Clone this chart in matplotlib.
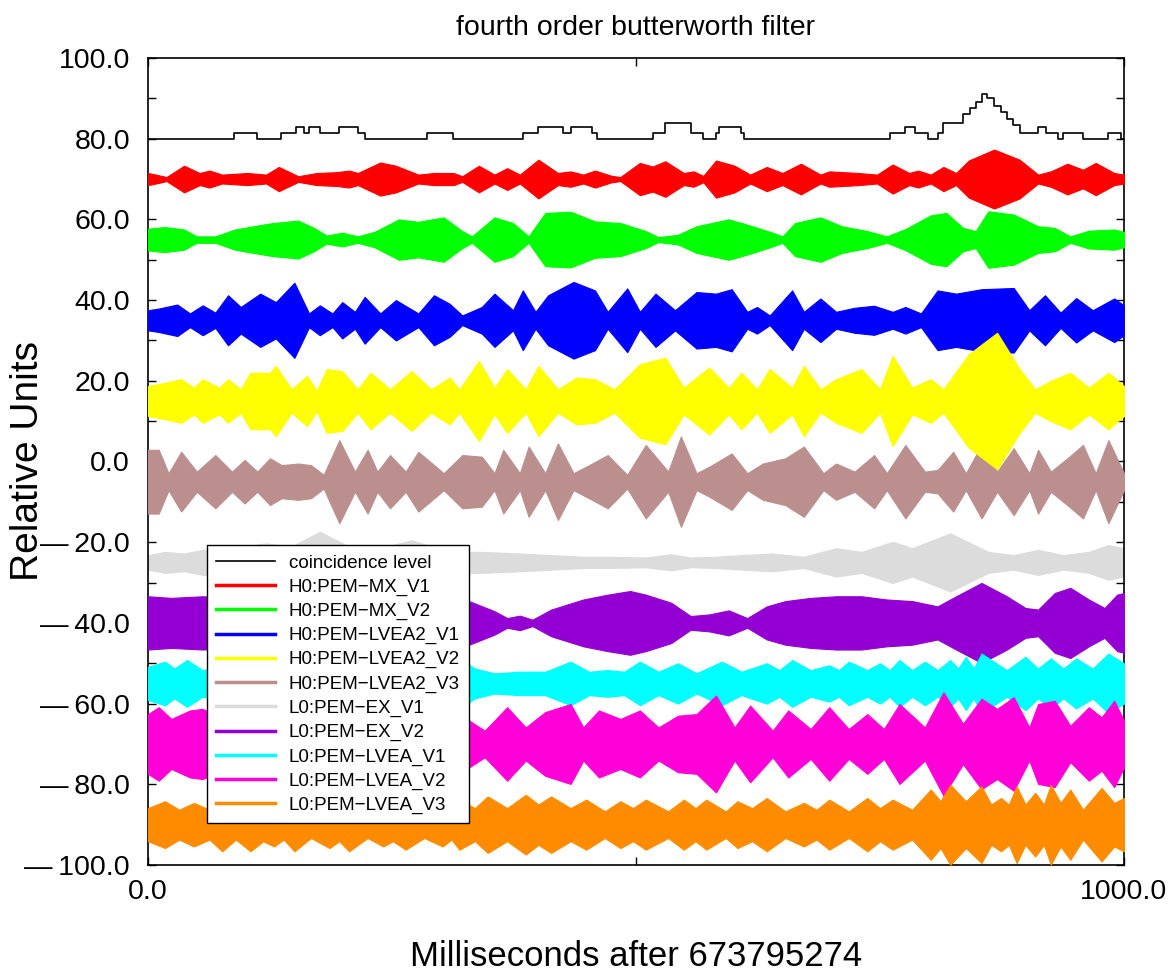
import numpy as np
import matplotlib
matplotlib.use('Agg')
import matplotlib.pyplot as plt
from matplotlib.ticker import FixedLocator, FuncFormatter, MultipleLocator
from matplotlib.lines import Line2D

plt.rcParams['font.family'] = ['Liberation Sans', 'DejaVu Sans']

# ---------------- data ----------------
names = ["coincidence level", "H0:PEM\u2212MX_V1", "H0:PEM\u2212MX_V2", "H0:PEM\u2212LVEA2_V1",
         "H0:PEM\u2212LVEA2_V2", "H0:PEM\u2212LVEA2_V3", "L0:PEM\u2212EX_V1", "L0:PEM\u2212EX_V2",
         "L0:PEM\u2212LVEA_V1", "L0:PEM\u2212LVEA_V2", "L0:PEM\u2212LVEA_V3"]
colors = ["#000000", "#ff0000", "#00ff00", "#0000ff", "#ffff00", "#bc8f8f", "#dcdcdc",
          "#9400d3", "#00ffff", "#ff00d8", "#ff8c00"]
offsets = [80, 70, 55, 35, 15, -5, -25, -40, -55, -70, -90]

coinc_t = [0, 88, 112, 136, 152, 160, 165, 176, 196, 215, 222, 286, 313, 384, 400, 425, 433, 455,
           460, 517, 530, 556, 569, 582, 585, 608, 611, 760, 776, 786, 799, 809, 815, 835, 842,
           848, 854, 860, 867, 874, 880, 886, 893, 912, 920, 932, 938, 958, 984, 997, 1000]
coinc_v = [80, 81.5, 80, 81.5, 83, 81.5, 83, 81.5, 83, 81.5, 80, 81.5, 80, 81.5, 83, 81.5, 83, 81.5,
           80, 81.5, 84, 81.5, 80, 81.5, 83, 81.5, 80, 81.5, 83, 81.5, 80, 81.5, 84, 86, 87.5,
           89, 91, 90, 88, 86.5, 85, 83.5, 81.5, 83, 81.5, 80, 81.5, 80, 81.5, 80, 80]

mx1_t = [0, 8, 19, 37, 53, 63, 76, 102, 121, 134, 154, 173, 193, 206, 215, 238, 254, 277, 293, 313,
         322, 339, 355, 368, 381, 400, 420, 433, 446, 458, 475, 484, 504, 517, 530, 549, 559, 569,
         582, 601, 617, 634, 650, 669, 689, 698, 728, 747, 763, 780, 789, 802, 815, 828, 841, 867,
         893, 912, 925, 942, 958, 971, 990, 1000]
mx1_a = [1.5, 1.1, 0.5, 3.3, 1.5, 2.1, 1.1, 1.5, 1.1, 3.0, 0.7, 1.5, 1.7, 2.1, 1.5, 4.1, 3.3, 1.1, 1.5,
         1.5, 0.7, 3.3, 1.1, 2.7, 1.1, 4.8, 1.5, 1.9, 1.1, 2.1, 0.8, 0.5, 4.0, 3.1, 4.4, 1.5, 1.9, 0.8,
         4.6, 3.3, 1.1, 3.0, 1.5, 3.8, 1.1, 1.9, 1.5, 1.1, 3.6, 1.5, 2.1, 1.1, 3.0, 1.5, 4.6, 7.3,
         4.8, 1.1, 1.9, 3.8, 2.3, 4.0, 1.5, 1.1]

mx2_t = [0, 17.5, 37, 50, 69, 89, 108, 128, 154, 170, 183, 199, 215, 232, 257, 277, 303, 322, 332,
         355, 374, 390, 407, 433, 458, 484, 510, 523, 543, 562, 595, 614, 640, 650, 663, 689, 711,
         737, 757, 776, 802, 818, 835, 848, 861, 887, 912, 929, 945, 964, 990, 1000]
mx2_a = [2.7, 3.1, 2.5, 0.8, 0.8, 2.5, 3.3, 4.1, 4.7, 2.9, 1.0, 1.7, 0.8, 1.9, 5.0, 4.4, 5.5, 2.1, 0.8,
         5.5, 4.1, 0.8, 6.6, 6.9, 4.5, 4.1, 2.1, 0.6, 1.2, 3.3, 5.0, 3.7, 1.7, 0.8, 4.1, 5.5, 3.3,
         2.1, 0.8, 2.6, 6.0, 6.6, 2.9, 2.1, 7.0, 6.2, 3.3, 2.9, 0.8, 2.2, 2.5, 1.9]

lv1_t = [0, 11, 30, 43, 56, 69, 82, 95, 115, 131, 150, 165, 176, 189, 199, 212, 222, 238, 254, 277,
         293, 309, 322, 342, 355, 374, 384, 397, 410, 436, 458, 471, 491, 504, 520, 540, 562, 582,
         598, 614, 624, 637, 660, 672, 689, 705, 724, 744, 763, 776, 792, 809, 828, 854, 887, 903,
         919, 935, 951, 968, 990, 1000]
lv1_a = [2.5, 2.9, 3.9, 1.7, 3.7, 1.9, 6.2, 3.3, 6.6, 4.5, 9.3, 1.7, 3.7, 1.7, 4.5, 2.1, 5.8, 1.7, 5.0,
         1.7, 6.2, 4.1, 1.2, 3.3, 6.6, 2.5, 7.4, 2.1, 6.2, 9.5, 7.4, 2.1, 7.9, 2.1, 6.6, 2.5, 7.0,
         6.6, 7.7, 2.1, 3.3, 1.2, 7.4, 2.1, 5.4, 2.1, 3.1, 3.6, 2.1, 3.3, 1.7, 7.4, 6.6, 7.7, 8.0,
         2.5, 6.2, 1.9, 5.5, 2.5, 5.4, 3.7]

lv2_t = [0, 17.5, 34, 47, 56, 73, 82, 95, 105, 125, 131, 147, 163, 173, 183, 199, 215, 228, 248, 270,
         290, 309, 319, 339, 355, 368, 387, 400, 420, 439, 458, 478, 504, 530, 549, 575, 595, 608,
         624, 637, 660, 672, 689, 705, 731, 750, 763, 783, 802, 815, 841, 870, 893, 909, 925, 945,
         964, 984, 1000]
lv2_a = [3.7, 4.5, 5.4, 3.3, 5.4, 3.3, 5.4, 2.9, 7.0, 7.0, 8.7, 2.9, 6.2, 2.5, 7.9, 7.4, 2.9, 7.0, 2.9,
         7.4, 2.9, 5.8, 2.9, 9.9, 3.3, 7.9, 2.9, 8.7, 2.9, 5.8, 5.4, 2.9, 9.1, 10.7, 3.3, 8.3, 3.3,
         7.0, 2.9, 7.9, 3.3, 8.7, 2.9, 5.4, 7.9, 2.9, 11.2, 3.3, 5.4, 2.9, 11.6, 16.9, 7.9, 2.9, 5.0,
         7.0, 3.3, 7.0, 3.7]

lv3_t = [0, 11, 21, 34, 50, 69, 86, 99, 112, 125, 137, 154, 167, 180, 196, 212, 225, 235, 248, 264,
         277, 303, 322, 342, 355, 364, 381, 390, 407, 420, 436, 455, 471, 491, 510, 533, 546, 562,
         575, 598, 614, 630, 653, 672, 692, 705, 724, 744, 757, 776, 796, 809, 825, 838, 854, 870,
         887, 903, 912, 925, 942, 958, 971, 984, 1000]
lv3_a = [7.9, 7.9, 2.1, 7.4, 2.5, 6.6, 2.5, 5.4, 2.5, 5.8, 4.1, 4.5, 4.1, 1.7, 10.3, 2.5, 7.9, 2.5, 6.6,
         2.5, 7.4, 2.1, 6.6, 6.2, 2.1, 7.9, 2.1, 8.7, 2.1, 9.5, 2.1, 4.5, 6.6, 1.7, 9.1, 2.5, 11.2,
         2.1, 3.7, 7.0, 2.1, 4.5, 5.8, 8.7, 2.1, 4.5, 2.5, 6.6, 2.1, 9.1, 2.5, 2.9, 7.4, 2.1, 9.1,
         2.5, 8.3, 2.1, 7.9, 2.5, 5.8, 9.1, 2.1, 10.3, 2.1]

ex1_t = [0, 17.5, 37, 56, 82, 121, 147, 176, 206, 238, 270, 296, 316, 342, 381, 413, 446, 471, 510,
         536, 556, 582, 608, 640, 672, 705, 731, 763, 783, 822, 861, 887, 912, 938, 964, 984, 1000]
ex1_a = [1.8, 2.6, 2.2, 3.1, 3.5, 4.7, 3.9, 7.6, 3.9, 3.5, 5.5, 3.5, 2.6, 2.6, 2.2, 1.8, 1.4, 1.4, 1.2,
         2.0, 1.2, 1.4, 1.8, 2.2, 1.4, 3.5, 2.6, 5.1, 3.5, 7.2, 2.6, 1.8, 3.1, 1.8, 2.6, 4.3, 3.5]

ex2_t = [0, 24, 56, 89, 154, 219, 283, 316, 329, 355, 368, 381, 394, 413, 446, 471, 494, 510, 536,
         556, 575, 595, 614, 634, 653, 679, 705, 731, 757, 783, 809, 828, 854, 880, 899, 912, 929,
         945, 964, 980, 993, 1000]
ex2_a = [6.6, 6.2, 6.6, 6.2, 5.8, 5.8, 5.8, 5.8, 5.4, 2.9, 1.2, 1.8, 0.8, 3.3, 5.8, 7.0, 7.9, 7.0, 5.0,
         1.7, 2.1, 3.1, 1.2, 4.1, 5.4, 6.2, 6.6, 6.6, 5.8, 5.4, 4.1, 6.6, 9.9, 6.6, 3.7, 3.3, 7.4,
         8.7, 5.8, 3.7, 7.0, 7.4]

lva1_t = [0, 17.5, 27, 40, 56, 89, 121, 154, 186, 219, 251, 283, 319, 335, 355, 381, 407, 433, 452,
          471, 488, 504, 523, 543, 562, 588, 608, 634, 647, 660, 679, 698, 708, 718, 737, 750, 760,
          770, 783, 796, 809, 822, 830, 838, 846, 854, 880, 899, 912, 925, 938, 951, 968, 984, 1000]
lva1_a = [4.1, 5.4, 3.7, 5.8, 3.3, 5.0, 3.3, 5.0, 3.3, 5.0, 3.3, 5.0, 6.2, 3.7, 2.5, 2.9, 2.9, 5.4,
          2.9, 3.3, 2.9, 5.4, 2.9, 5.0, 2.5, 5.4, 2.9, 5.0, 3.3, 5.8, 3.3, 4.5, 3.3, 5.4, 3.3, 5.0,
          3.3, 5.8, 3.3, 5.4, 3.3, 5.8, 3.7, 6.6, 3.7, 7.4, 3.3, 6.6, 3.7, 6.2, 3.7, 6.2, 3.7, 7.4,
          5.0]

lva2_t = [0, 11, 24, 43, 56, 89, 121, 154, 186, 219, 251, 283, 319, 329, 345, 368, 387, 407, 433,
          446, 462, 484, 504, 523, 543, 562, 582, 601, 617, 640, 656, 679, 698, 718, 737, 754, 770,
          796, 815, 835, 854, 870, 887, 903, 912, 929, 945, 964, 977, 990, 1000]
lva2_a = [7.4, 9.1, 6.2, 8.3, 8.7, 5.0, 9.1, 5.0, 9.1, 5.0, 9.1, 5.0, 5.4, 5.8, 3.3, 9.1, 4.1, 7.9,
          9.9, 4.1, 8.3, 6.2, 8.3, 4.1, 7.0, 7.4, 12.0, 4.1, 9.5, 3.3, 8.3, 3.7, 9.1, 3.7, 7.4, 3.7,
          9.9, 4.1, 12.8, 5.0, 11.2, 8.7, 11.6, 4.1, 9.9, 10.7, 4.5, 9.1, 6.6, 10.7, 5.8]

lva3_t = [0, 17.5, 32, 47, 63, 76, 90, 105, 118, 129, 139, 150, 167, 186, 196, 206, 225, 241, 251,
          264, 283, 302, 311, 319, 335, 348, 368, 387, 400, 413, 433, 449, 468, 484, 497, 510, 533,
          549, 561, 572, 592, 604, 619, 634, 653, 672, 685, 698, 718, 737, 750, 763, 783, 802, 812,
          822, 838, 854, 864, 874, 882, 890, 899, 909, 918, 925, 935, 945, 958, 977, 990, 1000]
lva3_a = [4.1, 5.8, 3.7, 5.4, 3.7, 6.6, 3.7, 6.6, 4.1, 5.4, 3.7, 6.6, 3.3, 5.8, 4.1, 6.6, 3.3, 5.4,
          4.1, 6.2, 3.3, 5.4, 3.7, 6.2, 4.1, 7.0, 4.1, 7.4, 5.0, 7.0, 4.1, 6.2, 3.3, 5.8, 4.1, 6.2,
          3.3, 6.2, 4.1, 6.2, 3.3, 5.8, 4.1, 6.6, 3.3, 5.4, 3.7, 6.2, 3.3, 6.6, 4.1, 6.2, 3.7, 8.7,
          5.8, 9.9, 5.8, 9.5, 5.0, 6.6, 5.0, 9.5, 5.0, 7.9, 5.0, 9.9, 5.4, 8.7, 3.7, 9.1, 5.4, 6.6]

band_t = [mx1_t, mx2_t, lv1_t, lv2_t, lv3_t, ex1_t, ex2_t, lva1_t, lva2_t, lva3_t]
band_a = [mx1_a, mx2_a, lv1_a, lv2_a, lv3_a, ex1_a, ex2_a, lva1_a, lva2_a, lva3_a]
band_z = [3, 3, 3, 4, 3, 2, 3, 3, 4, 5]

# ---------------- figure ----------------
W, H = 1173, 973
fig = plt.figure(figsize=(W / 100, H / 100), dpi=100)
ax = fig.add_axes([148 / W, 1 - 865 / H, (1124 - 148) / W, (865 - 58) / H])

ax.step(coinc_t, coinc_v, where='post', color=colors[0], lw=1.2, zorder=6)
for i, (t, a) in enumerate(zip(band_t, band_a)):
    t = np.asarray(t, float)
    a = np.asarray(a, float)
    c = offsets[i + 1]
    ax.fill_between(t, c - a, c + a, color=colors[i + 1], lw=0.8, zorder=band_z[i])

ax.set_xlim(0, 1000)
ax.set_ylim(-100, 100)
ax.xaxis.set_major_locator(FixedLocator([0, 1000]))
ax.xaxis.set_minor_locator(FixedLocator([500]))
ax.yaxis.set_major_locator(MultipleLocator(20))
ax.yaxis.set_minor_locator(MultipleLocator(10))
fmt = FuncFormatter(lambda v, p: f"{v:.1f}".replace('-', '\u2014\u2009'))
ax.xaxis.set_major_formatter(fmt)
ax.yaxis.set_major_formatter(fmt)
ax.tick_params(which='both', direction='in', top=True, right=True, length=6, width=1)
ax.tick_params(axis='y', labelsize=20.5, pad=13)
ax.tick_params(axis='x', labelsize=20.5, pad=10)
for s in ax.spines.values():
    s.set_linewidth(1.2)

handles = [Line2D([], [], color=colors[0], lw=1.2)] + \
          [Line2D([], [], color=col, lw=2.5) for col in colors[1:]]
leg = ax.legend(handles, names, loc='upper left', bbox_to_anchor=((207 - 148) / 976, (865 - 545) / 807),
                borderaxespad=0, fontsize=13.5, frameon=True, fancybox=False, framealpha=1,
                edgecolor='black', handlelength=3.1, handletextpad=0.75, labelspacing=0.37,
                borderpad=0.5)
leg.get_frame().set_linewidth(1.0)
leg.set_zorder(10)

fig.text(636 / W, 1 - 28 / H, 'fourth order butterworth filter', ha='center', va='center', fontsize=20.5)
fig.text(636 / W, 1 - 956 / H, 'Milliseconds after 673795274', ha='center', va='center', fontsize=25)
fig.text(28 / W, 1 - 461 / H, 'Relative Units', ha='center', va='center', rotation=90, fontsize=28)

fig.savefig('out.png', dpi=100)
